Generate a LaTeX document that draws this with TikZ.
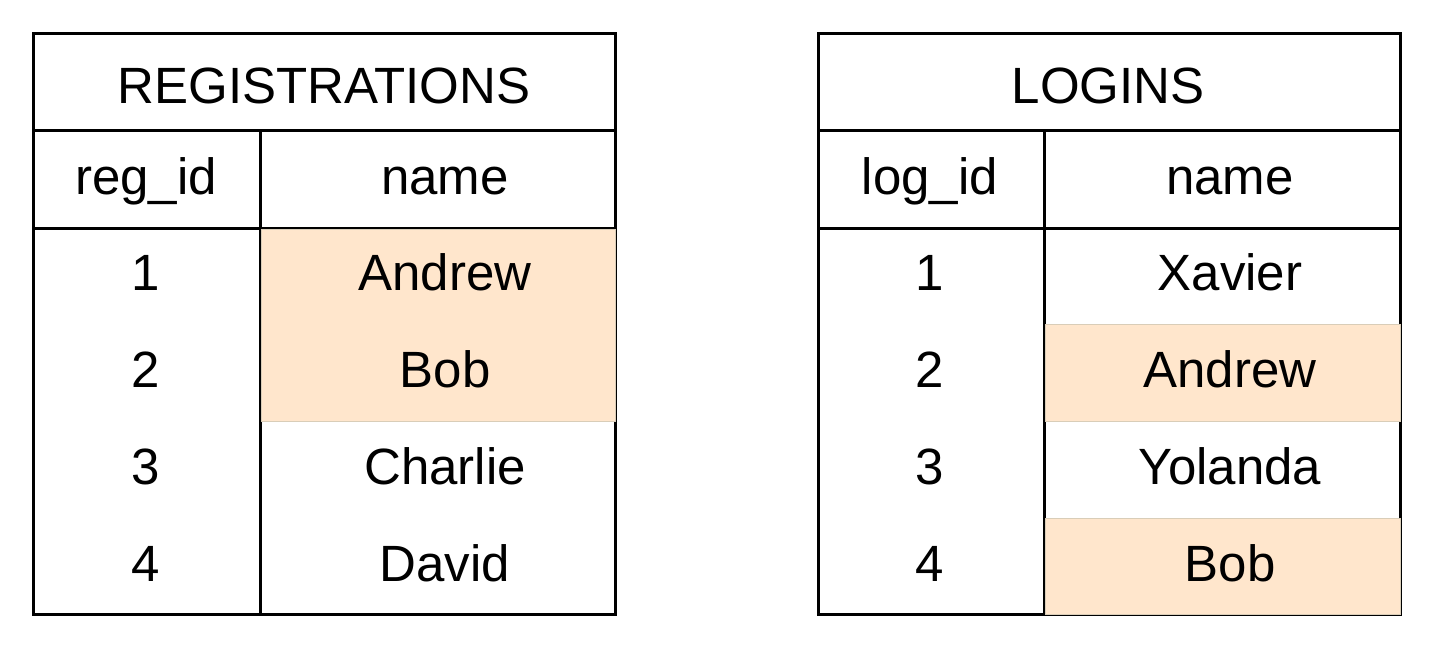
\documentclass[tikz,border=0pt]{standalone}
\usepackage{fontspec}
\setmainfont{Liberation Sans}
\definecolor{hl}{HTML}{FFE6CC}
\definecolor{hlline}{HTML}{D9CDB8}
\tikzset{
  grid/.style={line width=3pt, line cap=rect},
  hlcell/.style={fill=hl, draw=hlline, line width=0.8pt},
  txt/.style={font=\fontsize{51}{51}\selectfont, inner sep=0pt, anchor=base},
}
\begin{document}
\begin{tikzpicture}[x=1pt,y=-1pt]
\useasboundingbox (0,0) rectangle (1440,649);
% ---------- left table grid
\coordinate (L1) at (33,33);
\coordinate (L2) at (615,614);
\draw[grid] (L1) rectangle (L2);
\draw[grid] (33,130) -- (615,130);
\draw[grid] (33,228) -- (615,228);
\draw[grid] (260,130) -- (260,614);
% highlights left
\path[hlcell] (261.5,229.5) rectangle (615,421);
% ---------- right table grid
\coordinate (R1) at (818,33);
\coordinate (R2) at (1400,614);
\draw[grid] (R1) rectangle (R2);
\draw[grid] (818,130) -- (1400,130);
\draw[grid] (818,228) -- (1400,228);
\draw[grid] (1044,130) -- (1044,614);
% highlights right
\path[hlcell] (1045.5,324.5) rectangle (1400,421);
\path[hlcell] (1045.5,518) rectangle (1400,614);
% ---------- text left
\node[txt] (lt) at (324,103) {REGISTRATIONS};
\node[txt] (lh1) at (146,194) {reg\_id};
\node[txt] (lh2) at (445,194) {name};
\node[txt] (l11) at (146,290) {1};
\node[txt] (l12) at (445,290) {Andrew};
\node[txt] (l21) at (146,387) {2};
\node[txt] (l22) at (445,387) {Bob};
\node[txt] (l31) at (146,484) {3};
\node[txt] (l32) at (445,484) {Charlie};
\node[txt] (l41) at (146,581) {4};
\node[txt] (l42) at (445,581) {David};
% ---------- text right
\node[txt] (rt) at (1108,103) {LOGINS};
\node[txt] (rh1) at (930,194) {log\_id};
\node[txt] (rh2) at (1230,194) {name};
\node[txt] (r11) at (930,290) {1};
\node[txt] (r12) at (1230,290) {Xavier};
\node[txt] (r21) at (930,387) {2};
\node[txt] (r22) at (1230,387) {Andrew};
\node[txt] (r31) at (930,484) {3};
\node[txt] (r32) at (1230,484) {Yolanda};
\node[txt] (r41) at (930,581) {4};
\node[txt] (r42) at (1230,581) {Bob};
\end{tikzpicture}
\end{document}
